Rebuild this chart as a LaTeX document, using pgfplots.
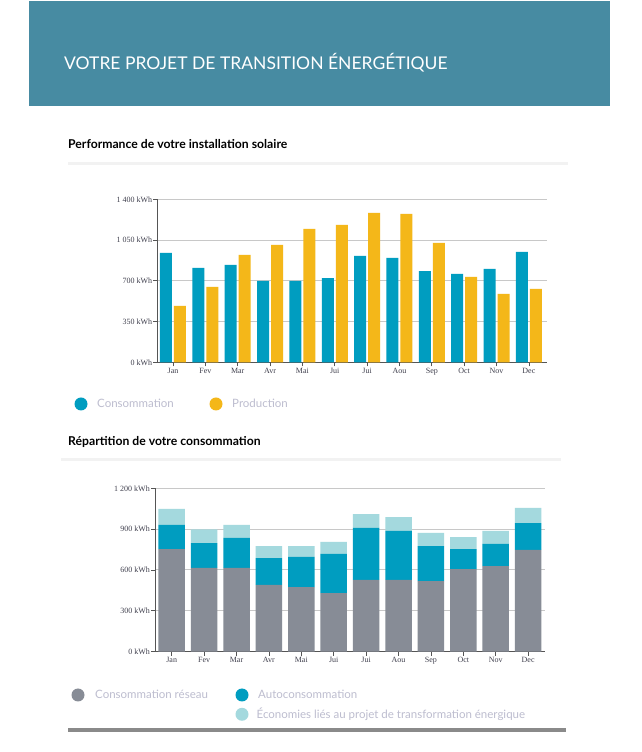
\documentclass[border=0pt]{standalone}
\usepackage{fontspec}
\setmainfont{Lato}
\newfontfamily\tickfont{Liberation Serif}
\usepackage{pgfplots}
\pgfplotsset{compat=1.18}

\definecolor{header}{HTML}{478BA2}
\definecolor{conso}{HTML}{009DC0}
\definecolor{prod}{HTML}{F4B719}
\definecolor{reseau}{HTML}{878C96}
\definecolor{econ}{HTML}{A4D9DE}
\definecolor{legtext}{HTML}{BDBDCF}
\definecolor{gridc}{HTML}{C8C8C8}
\definecolor{axisc}{HTML}{555555}
\definecolor{tickc}{HTML}{40404E}
\definecolor{sepline}{HTML}{F2F2F2}
\definecolor{rule}{HTML}{8A8A8A}

\pgfplotsset{
  monthly/.style={
    scale only axis,
    anchor=south west,
    axis x line*=bottom,
    axis y line*=left,
    axis line style={color=axisc, line width=1pt},
    tick style={color=axisc, line width=0.8pt},
    tick align=outside,
    major tick length=4pt,
    ymajorgrids,
    major grid style={color=gridc, line width=1pt},
    xtick={0,...,11},
    xticklabels={Jan,Fev,Mar,Avr,Mai,Jui,Jui,Aou,Sep,Oct,Nov,Dec},
    ticklabel style={font=\tickfont\fontsize{8}{9}\selectfont, text=tickc},
    yticklabel style={inner sep=1pt},
    xticklabel style={inner sep=1.5pt},
    ymin=0,
  },
}

\begin{document}
\begin{tikzpicture}[x=1pt,y=1pt]
\useasboundingbox (0,0) rectangle (641,752);
\fill[white] (0,0) rectangle (641,752);

% header band
\fill[header] (29,752-106) rectangle (610,751);
\node[anchor=base west, inner sep=0, text=white, font=\fontsize{17.5}{19}\selectfont]
  at (64,752-70) {VOTRE PROJET DE TRANSITION ÉNERGÉTIQUE};

% section 1
\node[anchor=base west, inner sep=0, font=\bfseries\fontsize{12.2}{13}\selectfont]
  at (68,752-149) {Performance de votre installation solaire};
\fill[sepline] (68,752-165.5) rectangle (568,752-162.5);

\begin{axis}[monthly,
  at={(157.3pt,389.7pt)}, width=389.4pt, height=163pt,
  xmin=-0.485, xmax=11.55, ymax=1400,
  ytick={0,350,700,1050,1400},
  yticklabels={0 kWh,350 kWh,700 kWh,1 050 kWh,1 400 kWh},
  ybar=2pt, bar width=12pt,
]
\addplot[fill=conso, draw=none] coordinates {
  (0,939) (1,810) (2,836) (3,699) (4,699) (5,724)
  (6,913) (7,896) (8,784) (9,759) (10,802) (11,948)
};
\addplot[fill=prod, draw=none] coordinates {
  (0,484) (1,647) (2,922) (3,1008) (4,1145) (5,1180)
  (6,1283) (7,1274) (8,1025) (9,733) (10,587) (11,630)
};
\end{axis}

% legend 1
\fill[conso] (81,752-404) circle (6.5);
\node[anchor=base west, inner sep=0, text=legtext, font=\fontsize{11.5}{12}\selectfont]
  at (97,752-408) {Consommation};
\fill[prod] (216,752-404) circle (6.5);
\node[anchor=base west, inner sep=0, text=legtext, font=\fontsize{11.5}{12}\selectfont]
  at (232,752-408) {Production};

% section 2
\node[anchor=base west, inner sep=0, font=\bfseries\fontsize{12.2}{13}\selectfont]
  at (68,752-446) {Répartition de votre consommation};
\fill[sepline] (61,752-461.5) rectangle (561,752-458.5);

\begin{axis}[monthly,
  at={(155pt,100.3pt)}, width=390pt, height=163.4pt,
  xmin=-0.515, xmax=11.52, ymax=1200,
  ytick={0,300,600,900,1200},
  yticklabels={0 kWh,300 kWh,600 kWh,900 kWh,1 200 kWh},
  ybar stacked, bar width=26.5pt,
]
\addplot[fill=reseau, draw=none] coordinates {
  (0,754) (1,615) (2,615) (3,490) (4,475) (5,431)
  (6,527) (7,527) (8,519) (9,607) (10,629) (11,747)
};
\addplot[fill=conso, draw=none] coordinates {
  (0,177) (1,183) (2,220) (3,198) (4,221) (5,287)
  (6,382) (7,360) (8,257) (9,147) (10,162) (11,198)
};
\addplot[fill=econ, draw=none] coordinates {
  (0,117) (1,101) (2,96) (3,88) (4,80) (5,88)
  (6,102) (7,102) (8,96) (9,88) (10,96) (11,111)
};
\end{axis}

% legend 2
\fill[reseau] (78,752-695) circle (6.5);
\node[anchor=base west, inner sep=0, text=legtext, font=\fontsize{11.5}{12}\selectfont]
  at (95,752-699) {Consommation réseau};
\fill[conso] (242,752-695) circle (6.5);
\node[anchor=base west, inner sep=0, text=legtext, font=\fontsize{11.5}{12}\selectfont]
  at (258,752-699) {Autoconsommation};
\fill[econ] (242,752-714.3) circle (6.5);
\node[anchor=base west, inner sep=0, text=legtext, font=\fontsize{11.5}{12}\selectfont]
  at (256.5,752-718.3) {Économies liés au projet de transformation énergique};

% bottom rule
\fill[rule] (68,752-732) rectangle (566,752-728.5);
\end{tikzpicture}
\end{document}
